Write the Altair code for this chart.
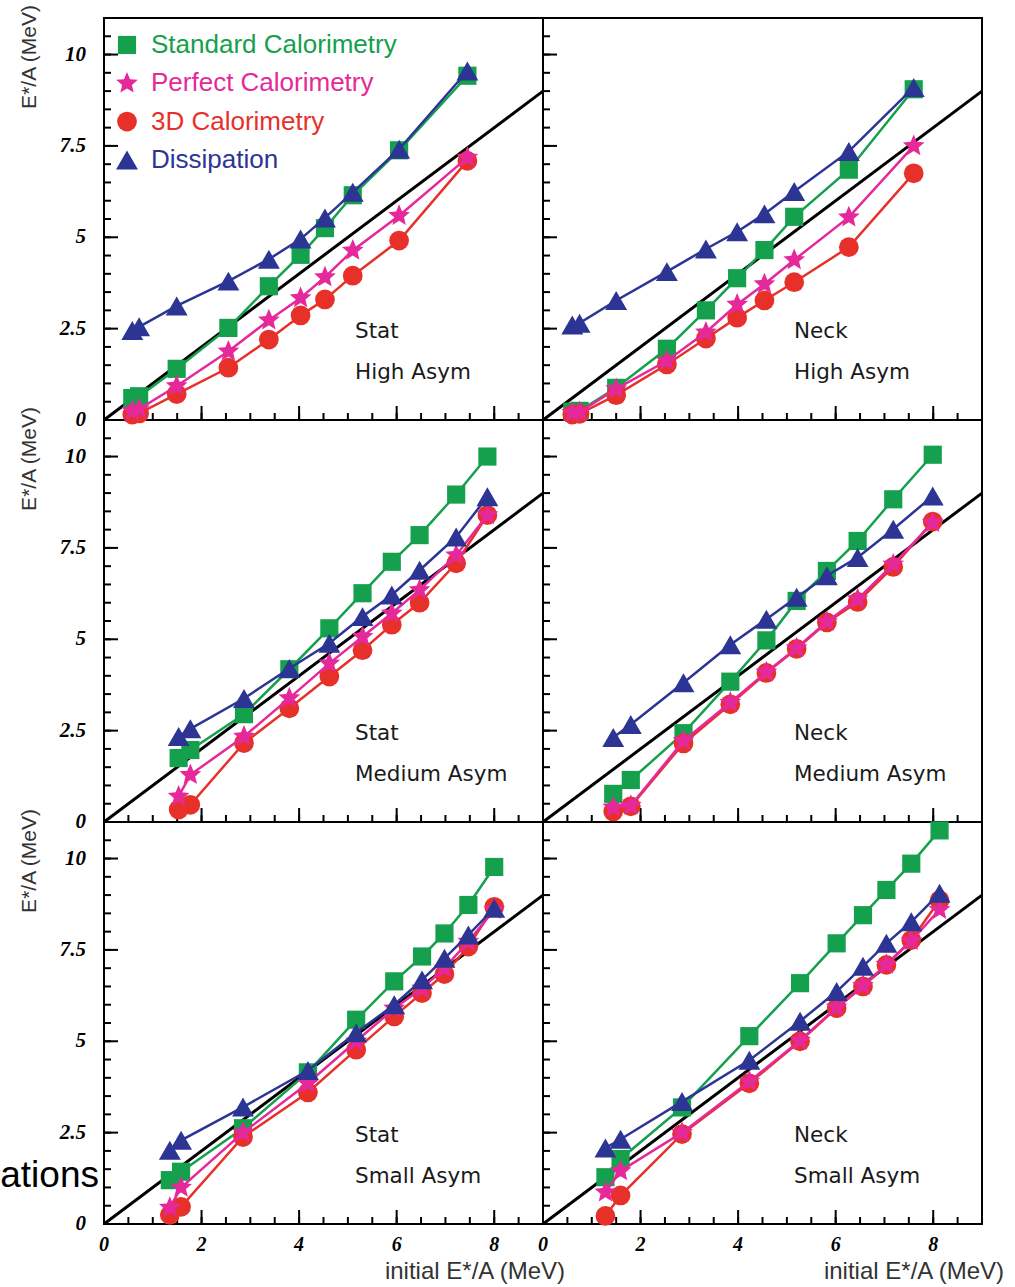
import altair as alt
import pandas as pd
import numpy as np

# ---------------- data ----------------
SERIES = ["Standard Calorimetry", "Perfect Calorimetry", "3D Calorimetry", "Dissipation"]
COLORS = ["#14a04c", "#e5299b", "#e8302b", "#2c3593"]
DRAW_ORDER = [0, 2, 1, 3]   # Standard, 3D, Perfect, Dissipation (bottom to top)

# Stat, High Asym
X_SH = [0.58, 0.72, 1.49, 2.55, 3.38, 4.03, 4.53, 5.10, 6.05, 7.45]
STD_SH = [0.6, 0.65, 1.4, 2.52, 3.66, 4.52, 5.25, 6.15, 7.38, 9.42]
PERF_SH = [0.25, 0.3, 0.93, 1.88, 2.73, 3.34, 3.91, 4.64, 5.59, 7.18]
D3_SH = [0.15, 0.18, 0.71, 1.43, 2.2, 2.86, 3.3, 3.95, 4.91, 7.09]
DISS_SH = [2.45, 2.55, 3.12, 3.8, 4.4, 4.95, 5.53, 6.23, 7.41, 9.55]

# Neck, High Asym
X_NH = [0.6, 0.75, 1.5, 2.54, 3.34, 3.98, 4.54, 5.15, 6.27, 7.6]
STD_NH = [0.23, 0.25, 0.88, 1.95, 3.0, 3.88, 4.65, 5.56, 6.85, 9.05]
PERF_NH = [0.2, 0.22, 0.85, 1.62, 2.4, 3.16, 3.72, 4.38, 5.55, 7.5]
D3_NH = [0.15, 0.17, 0.68, 1.52, 2.23, 2.8, 3.27, 3.77, 4.73, 6.75]
DISS_NH = [2.6, 2.65, 3.27, 4.06, 4.68, 5.15, 5.64, 6.25, 7.35, 9.1]

# Stat, Medium Asym
X_SM = [1.53, 1.77, 2.87, 3.8, 4.62, 5.3, 5.9, 6.47, 7.22, 7.86]
STD_SM = [1.75, 1.97, 2.95, 4.18, 5.3, 6.26, 7.12, 7.85, 8.96, 10.0]
PERF_SM = [0.7, 1.29, 2.34, 3.39, 4.34, 5.07, 5.71, 6.35, 7.3, 8.4]
D3_SM = [0.34, 0.47, 2.16, 3.11, 3.98, 4.7, 5.4, 6.0, 7.08, 8.4]
DISS_SM = [2.34, 2.55, 3.38, 4.2, 4.89, 5.62, 6.21, 6.89, 7.8, 8.9]

# Neck, Medium Asym
X_NM = [1.44, 1.8, 2.88, 3.84, 4.58, 5.2, 5.82, 6.45, 7.18, 7.99]
STD_NM = [0.77, 1.15, 2.43, 3.84, 4.97, 6.05, 6.87, 7.69, 8.83, 10.05]
PERF_NM = [0.4, 0.45, 2.22, 3.27, 4.1, 4.76, 5.48, 6.1, 7.05, 8.19]
D3_NM = [0.29, 0.43, 2.15, 3.22, 4.08, 4.74, 5.46, 6.02, 6.98, 8.22]
DISS_NM = [2.31, 2.67, 3.81, 4.85, 5.55, 6.15, 6.74, 7.24, 8.01, 8.92]

# Stat, Small Asym
X_SS = [1.35, 1.58, 2.85, 4.18, 5.17, 5.95, 6.52, 6.98, 7.47, 8.0]
STD_SS = [1.2, 1.43, 2.62, 4.15, 5.59, 6.64, 7.32, 7.95, 8.73, 9.77]
PERF_SS = [0.45, 1.0, 2.5, 3.85, 5.0, 5.9, 6.45, 7.0, 7.73, 8.6]
D3_SS = [0.25, 0.47, 2.38, 3.6, 4.77, 5.68, 6.32, 6.84, 7.59, 8.68]
DISS_SS = [2.02, 2.29, 3.2, 4.2, 5.23, 6.0, 6.68, 7.27, 7.91, 8.64]

# Neck, Small Asym
X_NS = [1.28, 1.59, 2.85, 4.23, 5.27, 6.02, 6.56, 7.04, 7.55, 8.13]
STD_NS = [1.28, 1.78, 3.19, 5.14, 6.59, 7.68, 8.45, 9.14, 9.86, 10.77]
PERF_NS = [0.87, 1.45, 2.5, 3.9, 5.02, 5.93, 6.52, 7.1, 7.75, 8.6]
D3_NS = [0.22, 0.78, 2.46, 3.85, 5.0, 5.91, 6.5, 7.09, 7.77, 8.86]
DISS_NS = [2.08, 2.32, 3.35, 4.48, 5.55, 6.36, 7.05, 7.68, 8.27, 9.05]

PANEL_TEXT = [("Stat", "High Asym"), ("Neck", "High Asym"),
              ("Stat", "Medium Asym"), ("Neck", "Medium Asym"),
              ("Stat", "Small Asym"), ("Neck", "Small Asym")]

DIAG = [0, 9]
X_LABELS = [0, 2, 4, 6, 8]
Y_LABELS = [0, 2.5, 5, 7.5, 10]
X_STEP, Y_STEP = 0.5, 0.5
X_MAX, Y_MAX = 9, 11

# ---------------- geometry / style ----------------
W, H = 439, 402                 # one panel
WT, HT = 2 * W, 3 * H           # whole grid
xscale = alt.Scale(domain=[0, 2 * X_MAX], nice=False, zero=False)
yscale = alt.Scale(domain=[0, 3 * Y_MAX], nice=False, zero=False)
NUMFONT = "Liberation Serif"
SANS = "Liberation Sans"
TXTFONT = "DejaVu Sans"

# five-pointed star glyph as a custom symbol path (unit coordinates)
_pts = []
for k in range(10):
    rad = 1.0 if k % 2 == 0 else 0.45
    th = np.deg2rad(-90 + 36 * k)
    _pts.append("%.4f,%.4f" % (rad * np.cos(th), rad * np.sin(th)))
STAR = "M" + "L".join(_pts) + "Z"

SHAPES = ["square", STAR, "circle", "triangle-up"]
SIZES = [330, 520, 390, 480]

panel_data = [
    (0, 0, X_SH, STD_SH, PERF_SH, D3_SH, DISS_SH),
    (1, 0, X_NH, STD_NH, PERF_NH, D3_NH, DISS_NH),
    (0, 1, X_SM, STD_SM, PERF_SM, D3_SM, DISS_SM),
    (1, 1, X_NM, STD_NM, PERF_NM, D3_NM, DISS_NM),
    (0, 2, X_SS, STD_SS, PERF_SS, D3_SS, DISS_SS),
    (1, 2, X_NS, STD_NS, PERF_NS, D3_NS, DISS_NS),
]

rows = []
for p, (c, r, xs, std, perf, d3, diss) in enumerate(panel_data):
    for si, vals in enumerate([std, perf, d3, diss]):
        for x, y in zip(xs, vals):
            rows.append({"panel": p, "col": c, "row": r, "series": SERIES[si], "x": x, "y": y})
df = pd.DataFrame(rows)

OFFX = "datum.x + %d * datum.col" % X_MAX
OFFY = "datum.y + %d * (2 - datum.row)" % Y_MAX


def X(f):
    return alt.X(f, scale=xscale, axis=None)


def Y(f):
    return alt.Y(f, scale=yscale, axis=None)


diag_df = pd.DataFrame([{"col": c, "row": r, "panel": p, "x": d, "y": d}
                        for p, (c, r, *_rest) in enumerate(panel_data) for d in DIAG])
diag = alt.Chart(diag_df).transform_calculate(xp=OFFX, yp=OFFY).mark_line(
    color="black", strokeWidth=3).encode(x=X("xp:Q"), y=Y("yp:Q"), detail="panel:N")

# tick values in grid coordinates
x_vals = [v + X_MAX * c for c in range(2) for v in X_LABELS]
y_vals = [v + Y_MAX * r for r in range(3) for v in Y_LABELS]

ytick_minor = pd.DataFrame([{"e": X_MAX * c, "v": v} for c in range(2)
                            for v in np.arange(0, 3 * Y_MAX + 0.01, Y_STEP)])
ytick_major = pd.DataFrame([{"e": X_MAX * c, "v": v} for c in range(2) for v in y_vals])
xtick_minor = pd.DataFrame([{"e": Y_MAX * r, "v": v} for r in range(3)
                            for v in np.arange(0, 2 * X_MAX + 0.01, X_STEP)])
xtick_major = pd.DataFrame([{"e": Y_MAX * r, "v": v} for r in range(3) for v in x_vals])


def yticks(d, length):
    return alt.Chart(d).mark_tick(orient="horizontal", size=length, thickness=2,
                                  xOffset=length / 2, color="black", opacity=1).encode(
        x=X("e:Q"), y=Y("v:Q"))


def xticks(d, length):
    return alt.Chart(d).mark_tick(orient="vertical", size=length, thickness=2,
                                  yOffset=-length / 2, color="black", opacity=1).encode(
        x=X("v:Q"), y=Y("e:Q"))


# tick labels (bold italic serif), placed through the scales
xlab_df = pd.DataFrame([{"v": v + X_MAX * c, "t": "%g" % v} for c in range(2) for v in X_LABELS])
ylab_df = pd.DataFrame([{"v": v + Y_MAX * r, "t": "%g" % v} for r in range(3) for v in Y_LABELS])
xlabels = alt.Chart(xlab_df).mark_text(font=NUMFONT, fontStyle="italic", fontWeight="bold",
                                       fontSize=20, align="center", baseline="middle",
                                       color="black").encode(
    x=X("v:Q"), y=alt.value(HT + 21), text="t:N")
ylabels = alt.Chart(ylab_df).mark_text(font=NUMFONT, fontStyle="italic", fontWeight="bold",
                                       fontSize=21, align="right", baseline="middle",
                                       color="black").encode(
    x=alt.value(-18), y=Y("v:Q"), text="t:N")

# panel dividers
vdiv = alt.Chart(pd.DataFrame({"v": [X_MAX]})).mark_rule(color="black", strokeWidth=2).encode(
    x=X("v:Q"), y=alt.value(0), y2=alt.value(HT))
hdiv = alt.Chart(pd.DataFrame({"v": [Y_MAX, 2 * Y_MAX]})).mark_rule(color="black", strokeWidth=2).encode(
    y=Y("v:Q"), x=alt.value(0), x2=alt.value(WT))

layers = [diag, yticks(ytick_minor, 7), yticks(ytick_major, 14),
          xticks(xtick_minor, 7), xticks(xtick_major, 14), vdiv, hdiv, xlabels, ylabels]

# series: line then markers, in drawing order
for si in DRAW_ORDER:
    name = SERIES[si]
    base = alt.Chart(df).transform_filter(alt.datum.series == name).transform_calculate(
        xp=OFFX, yp=OFFY)
    layers.append(base.mark_line(color=COLORS[si], strokeWidth=2.5).encode(
        x=X("xp:Q"), y=Y("yp:Q"), detail="panel:N"))
    layers.append(base.mark_point(filled=True, opacity=1, strokeWidth=0, shape=SHAPES[si],
                                  size=SIZES[si], color=COLORS[si]).encode(
        x=X("xp:Q"), y=Y("yp:Q")))

dummy = pd.DataFrame({"a": [0]})


def txt(t, x, y, **kw):
    return alt.Chart(dummy).mark_text(text=t, **kw).encode(x=alt.value(x), y=alt.value(y))


# panel annotations
for p, (l1, l2) in enumerate(PANEL_TEXT):
    c, r = p % 2, p // 2
    layers.append(txt(l1, c * W + 251, r * H + 314, font=TXTFONT, fontSize=21.5, align="left",
                      baseline="middle", color="#1a1a1a"))
    layers.append(txt(l2, c * W + 251, r * H + 355, font=TXTFONT, fontSize=21.5, align="left",
                      baseline="middle", color="#1a1a1a"))

# axis titles
for r in range(3):
    layers.append(txt("E*/A (MeV)", -74, r * H - 13, font=SANS, fontSize=21, angle=270,
                      align="right", baseline="middle", color="#333333"))
for c in range(2):
    layers.append(txt("initial E*/A (MeV)", c * W + W + 22, HT + 48, font=SANS, fontSize=24,
                      align="right", baseline="middle", color="#333333"))

# legend (top-left panel)
for i in range(4):
    yy = 27 + i * 38.3
    layers.append(alt.Chart(dummy).mark_point(filled=True, opacity=1, strokeWidth=0,
                                              shape=SHAPES[i], size=SIZES[i],
                                              color=COLORS[i]).encode(
        x=alt.value(23), y=alt.value(yy)))
    layers.append(txt(SERIES[i], 47, yy, font=SANS, fontSize=26, align="left",
                      baseline="middle", color=COLORS[i]))

# stray slide text at lower left
layers.append(txt("ations", -5, 2 * H + 365, font=SANS, fontSize=37, align="right",
                  baseline="alphabetic", color="black"))

chart = alt.layer(*layers).properties(
    width=WT, height=HT,
    padding={"left": 0, "top": 5, "right": 5, "bottom": 5},
    background="white",
).configure_view(stroke="black", strokeWidth=2)

chart.save("out.html", embed_options={"renderer": "svg", "actions": False})
